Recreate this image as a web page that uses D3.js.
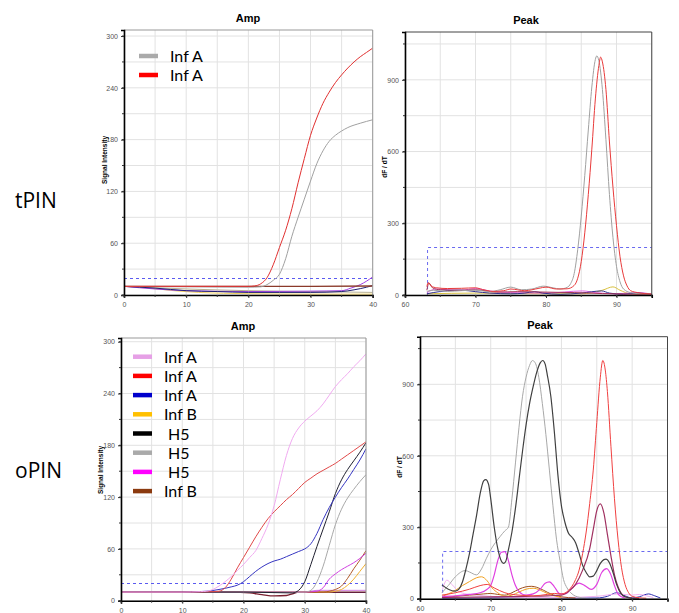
<!DOCTYPE html>
<html><head><meta charset="utf-8">
<script src="https://cdn.jsdelivr.net/npm/d3@7"></script>
<style>
html,body{margin:0;padding:0;background:#fff;}
svg{display:block;}
</style></head>
<body>
<svg id="c" width="679" height="613"></svg>
<script>
// ---------------- DATA ----------------
const rowLabels = ["tPIN", "oPIN"];
const ampXTicks = [0, 10, 20, 30, 40];
const ampYTicks = [0, 60, 120, 180, 240, 300];
const peakXTicks = [60, 70, 80, 90];
const peakYTicks = [0, 300, 600, 900];
const ampThreshold = 20;
const peakThresholdX = 63.2;
const peakThresholdY = 200;

const legendTop = [
  {name: "Inf A", color: "#aaaaaa"},
  {name: "Inf A", color: "#ff0000"}
];
const legendBottom = [
  {name: "Inf A", color: "#e6a0e6"},
  {name: "Inf A", color: "#ff0000"},
  {name: "Inf A", color: "#0000cc"},
  {name: "Inf B", color: "#ffc000"},
  {name: " H5", color: "#000000"},
  {name: " H5", color: "#aaaaaa"},
  {name: " H5", color: "#ff00ff"},
  {name: "Inf B", color: "#8b3a0f"}
];

// tPIN amplification curves [cycle, signal]
const tAmpRed = [[0,10],[5,10],[10,10],[15,10],[20,10],[21,10.5],[22,13],[23,20],[24,35],[25,55],[26,75],[27,100],[28,130],[29,158],[30,185],[31,205],[32,222],[33,235],[34,246],[35,255],[36,263],[37,270],[38,276],[39,281],[40,286]];
const tAmpGray = [[0,10],[10,9.5],[20,9],[22,9.5],[23,12],[24,17],[25,24],[26,42],[27,68],[28,90],[29,111],[30,132],[31,152],[32,167],[33,178],[34,185],[35,190],[36,194],[38,199],[40,203]];
const tAmpBrown = [[0,10],[10,10],[20,10],[30,10],[40,10.5]];
const tAmpNavy = [[0,10],[5,8],[10,5],[15,4],[20,3],[25,3],[30,3],[35,4],[37,6],[39,9],[40,11]];
const tAmpViolet = [[0,10],[5,7],[10,5],[20,4],[30,4.5],[35,5],[36.5,8],[38,12],[39,16],[40,21]];
const tAmpYellow = [[0,10],[4,8],[8,5],[12,3],[16,2],[20,1.5],[30,1],[40,1]];
const tAmpTan = [[0,10],[10,7],[20,5],[30,4],[40,3]];

// tPIN melt peak curves [temperature, dF/dT]
const tPeakRed = [[63.1,35],[63.3,52],[63.7,38],[64.5,30],[66,27],[68,28],[70,30],[71,23],[72.5,15],[74,18],[75,25],[77,18],[79,28],[80,33],[81.5,25],[83,26],[84,40],[84.5,70],[85,140],[85.5,260],[86,420],[86.5,610],[87,820],[87.5,960],[87.75,995],[88,975],[88.5,860],[89,640],[89.5,450],[90,290],[90.5,160],[91,80],[91.5,38],[92,18],[93,10],[94,6],[95,4]];
const tPeakGray = [[63.1,15],[64,20],[66,15],[68,18],[70,20],[72,14],[73.5,22],[75,33],[76.5,22],[78,25],[79.6,37],[81,30],[82,25],[83,32],[83.5,48],[84,90],[84.5,190],[85,330],[85.5,500],[86,690],[86.5,870],[87,985],[87.2,1000],[87.5,980],[88,860],[88.5,650],[89,420],[89.5,240],[90,120],[90.5,55],[91,25],[92,10],[93,6],[95,4]];
const tPeakNavy = [[63.1,5],[64,10],[66,18],[68,20],[70,14],[72,8],[75,5],[77,8],[78.4,14],[79.5,8],[82,3],[85,8],[87.9,17],[89,8],[91,3],[93,8],[95,3]];
const tPeakMagenta = [[63.1,10],[64.5,25],[66,22],[68,20],[70,27],[72,17],[75,10],[80,8],[85.2,17],[87,10],[90,5],[93,10],[95,4]];
const tPeakYellow = [[63.1,5],[70,8],[80,5],[85,5],[88,20],[89.5,34],[90.5,20],[92,5],[95,3]];
const tPeakMaroon = [[63.1,20],[63.4,50],[63.9,30],[65,22],[68,20],[70,22],[73,12],[76,14],[80,12],[84,10],[88,6],[95,2]];

// oPIN amplification curves
const oAmpPink = [[0,10],[10,10],[13,10.5],[14,11],[15,13],[16,17],[17,22],[18,28],[19,35],[20,42],[21,50],[22,58],[23,72],[24,88],[25,110],[26,140],[27,168],[28,188],[29,200],[30,208],[31,214],[32,220],[33,228],[34,238],[35,248],[36,256],[37,263],[38,271],[39,278],[40,286]];
const oAmpRed = [[0,10],[10,10],[15,10.5],[16,11],[17,15],[18,25],[19,38],[20,50],[21,62],[22,74],[23,85],[24,95],[25,103],[26,110],[27,117],[28,123],[29,130],[30,137],[31,142],[32,147],[33,151],[34,155],[35,159],[36,164],[37,169],[38,174],[39,179],[40,184]];
const oAmpBlue = [[0,10],[10,10],[14,11],[16,13],[18,16],[19,18],[20,22],[21,28],[22,34],[23,39],[24,43],[25,46],[26,48],[27,51],[28,54],[29,57],[30,60],[31,66],[32,78],[33,94],[34,108],[35,120],[36,131],[37,141],[38,152],[39,163],[40,176]];
const oAmpBlack = [[0,10],[20,10],[28,9],[29,12],[30,22],[31,42],[32,63],[33,83],[34,103],[35,124],[36,140],[37,152],[38,162],[39,172],[40,183]];
const oAmpGray = [[0,10],[30,10],[31,12],[32,22],[33,40],[34,64],[35,88],[36,106],[37,119],[38,129],[39,138],[40,146]];
const oAmpMagenta = [[0,10],[30,10],[32,11],[33,15],[34,25],[35,31],[36,36],[37,40],[38,44],[39,49],[40,55]];
const oAmpOrange = [[0,10],[34,10],[35,11],[36,13],[37,18],[38,25],[39,34],[40,43]];
const oAmpBrown = [[0,10],[33,10],[34,11],[35,13],[36,17],[37,26],[38,37],[39,47],[40,58]];
const oAmpMaroon = [[0,10],[18,10],[21,9],[23,7],[25,5.5],[27,6],[28,8],[29,10],[40,10]];
const oAmpLilac = [[0,10],[30,10],[32,12],[40,12]];
const oAmpNavy = [[0,9.5],[40,9.5]];

// oPIN melt peak curves
const oPeakBlack = [[63.1,58],[64,40],[65,32],[65.5,40],[66,70],[66.5,125],[67,190],[67.5,270],[68,350],[68.5,440],[69,495],[69.3,500],[69.7,480],[70,420],[70.5,300],[71,210],[71.5,158],[71.8,148],[72.1,155],[72.5,205],[73,280],[73.5,380],[74,500],[74.5,620],[75,730],[75.5,820],[76,890],[76.5,950],[77,990],[77.35,1000],[77.7,985],[78,940],[78.5,850],[79,700],[79.5,520],[80,390],[80.5,320],[81,275],[81.5,258],[82,235],[82.5,190],[83,140],[83.5,110],[84,92],[84.5,95],[85,118],[85.5,148],[86,164],[86.3,166],[86.8,150],[87.3,110],[87.8,60],[88.4,22],[89,8],[90,2],[91,0]];
const oPeakGray = [[63.1,25],[64,55],[65,92],[66.4,118],[67,112],[68,100],[68.7,125],[69.4,170],[70,205],[71.3,260],[72,285],[72.5,300],[73,420],[73.5,570],[74,720],[74.5,850],[75,930],[75.5,980],[75.9,1000],[76.3,990],[76.8,930],[77.3,820],[77.8,690],[78.3,540],[78.8,390],[79.3,250],[79.8,160],[80.3,80],[80.8,45],[81.5,20],[82.5,6],[83.5,2]];
const oPeakRed = [[63.1,15],[65,25],[67,40],[68.5,55],[69.5,60],[70.5,45],[72,25],[74,15],[76,12],[78,18],[79,22],[80,20],[81,35],[82,80],[82.5,120],[83,190],[83.5,280],[84,400],[84.5,540],[85,740],[85.5,930],[85.85,1000],[86.2,960],[86.5,870],[87,640],[87.5,420],[88,250],[88.5,130],[89,60],[89.5,25],[90,10],[91,4],[92,2]];
const oPeakMauve = [[63.1,5],[70,8],[75,10],[78,12],[80,15],[81,30],[82,60],[83,120],[84,210],[84.5,290],[85,370],[85.5,398],[86,360],[86.5,270],[87,180],[87.5,100],[88,50],[88.5,20],[89,8],[90,3]];
const oPeakMagenta = [[63.2,10],[65,12],[67,18],[68.5,25],[69.5,40],[70,55],[70.5,100],[71,160],[71.5,195],[72,198],[72.5,160],[73,100],[73.5,55],[74,30],[75,15],[76,20],[77,40],[77.7,65],[78.3,71],[79,50],[79.8,20],[80.5,20],[81.5,45],[82.5,65],[83.3,55],[84.2,39],[85,60],[85.7,110],[86.4,126],[87,100],[87.5,55],[88,20],[88.5,8],[89,3]];
const oPeakOrange = [[63.2,10],[64,20],[65,35],[66,55],[67,72],[68,88],[68.7,92],[69.5,75],[70.2,45],[71,25],[72,10],[73,15],[74,28],[75,40],[76,44],[77,36],[78,22],[79,12],[80,5]];
const oPeakBrown = [[63.2,5],[65,10],[67,15],[69,20],[70,22],[71,18],[72,15],[73,25],[74,40],[75,50],[75.8,52],[76.5,48],[77.5,35],[78.5,20],[80,8],[82,3]];
const oPeakPink = [[63.2,40],[63.8,78],[64.5,60],[65.5,30],[66.5,20],[68,15],[70,10],[75,5],[80,5],[85,10],[88,20],[90,15],[91,18],[92,12],[93,5]];
const oPeakBlue = [[63.2,2],[70,3],[75,5],[80,3],[85,3],[86.5,10],[87.8,25],[89,12],[90,3],[91,8],[92.3,20],[93.2,12],[94,3]];

// ---------------- DRAW ----------------
const svg = d3.select("#c");
svg.append("rect").attr("width", 679).attr("height", 613).attr("fill", "#fff");
let clipId = 0;

function drawPanel(cfg) {
  const x = d3.scaleLinear().domain(cfg.xDomain).range([cfg.left, cfg.right]);
  const y = d3.scaleLinear().domain(cfg.yDomain).range([cfg.bottom, cfg.top]);
  const g = svg.append("g");

  const xg = d3.range(cfg.xDomain[0], cfg.xDomain[1] + 0.001, cfg.xGridStep);
  const yg = d3.range(cfg.yDomain[0], cfg.yDomain[1] + 0.001, cfg.yGridStep);
  g.selectAll(".vg").data(xg).join("line")
    .attr("x1", d => x(d)).attr("x2", d => x(d))
    .attr("y1", cfg.top).attr("y2", cfg.bottom)
    .attr("stroke", "#e2e2e2").attr("stroke-width", 1);
  g.selectAll(".hg").data(yg).join("line")
    .attr("x1", cfg.left).attr("x2", cfg.right)
    .attr("y1", d => y(d)).attr("y2", d => y(d))
    .attr("stroke", "#e2e2e2").attr("stroke-width", 1);

  const id = "clip" + (clipId++);
  svg.append("clipPath").attr("id", id).append("rect")
    .attr("x", cfg.left).attr("y", cfg.top)
    .attr("width", cfg.right - cfg.left).attr("height", cfg.bottom - cfg.top);
  const plot = g.append("g").attr("clip-path", `url(#${id})`);

  if (cfg.type === "amp") {
    plot.append("line")
      .attr("x1", x(cfg.xDomain[0])).attr("x2", x(cfg.xDomain[1]))
      .attr("y1", Math.round(y(ampThreshold)) + 0.5).attr("y2", Math.round(y(ampThreshold)) + 0.5)
      .attr("stroke", "#5a5af0").attr("stroke-width", 1).attr("stroke-dasharray", "3,3");
  } else {
    plot.append("path")
      .attr("d", d3.line()([[x(peakThresholdX), y(0)], [x(peakThresholdX), Math.round(y(peakThresholdY)) + 0.5], [x(cfg.xDomain[1]), Math.round(y(peakThresholdY)) + 0.5]]))
      .attr("fill", "none")
      .attr("stroke", "#6a6af0").attr("stroke-width", 1).attr("stroke-dasharray", "3,3");
  }

  const line = d3.line().x(d => x(d[0])).y(d => y(d[1])).curve(d3.curveMonotoneX);
  cfg.series.forEach(s => {
    plot.append("path").attr("d", line(s.data))
      .attr("fill", "none").attr("stroke", s.color)
      .attr("stroke-width", s.w || 1).attr("stroke-opacity", s.o || 1);
  });

  g.append("line").attr("x1", cfg.left).attr("x2", cfg.right).attr("y1", cfg.top).attr("y2", cfg.top)
    .attr("stroke", cfg.type === "amp" ? "#999" : "#444").attr("stroke-width", 1);
  g.append("line").attr("x1", cfg.right).attr("x2", cfg.right).attr("y1", cfg.top).attr("y2", cfg.bottom)
    .attr("stroke", cfg.type === "amp" ? "#999" : "#444").attr("stroke-width", 1);

  const xAxis = d3.axisBottom(x).tickValues(cfg.xTicks).tickSize(3).tickFormat(d3.format("d"));
  const yAxis = d3.axisLeft(y).tickValues(cfg.yTicks).tickSize(3).tickFormat(d3.format("d"));
  const gx = g.append("g").attr("transform", `translate(0,${cfg.bottom})`).call(xAxis);
  const gy = g.append("g").attr("transform", `translate(${cfg.left},0)`).call(yAxis);
  [gx, gy].forEach(a => {
    a.select(".domain").attr("stroke", "#000").attr("stroke-width", 1.6);
    a.selectAll(".tick line").attr("stroke", "#333");
    a.selectAll(".tick text").attr("fill", "#555").style("font-family", "Liberation Sans, Arial, sans-serif").style("font-size", "7px");
  });
  gx.selectAll(".tick text").attr("dy", "0.9em");
  g.selectAll(".myt").data(yg).join("line")
    .attr("x1", cfg.left - 2).attr("x2", cfg.left)
    .attr("y1", d => y(d)).attr("y2", d => y(d)).attr("stroke", "#333");
  g.selectAll(".mxt").data(xg).join("line")
    .attr("x1", d => x(d)).attr("x2", d => x(d))
    .attr("y1", cfg.bottom).attr("y2", cfg.bottom + 2).attr("stroke", "#333");

  g.append("text").attr("x", cfg.titleX).attr("y", cfg.titleY)
    .attr("text-anchor", "middle")
    .style("font-family", "Liberation Sans, Arial, sans-serif").style("font-weight", "bold").style("font-size", "11px")
    .text(cfg.title);
  g.append("text").attr("transform", `translate(${cfg.ylabX},${cfg.ylabY}) rotate(-90)`)
    .attr("text-anchor", "middle")
    .style("font-family", "Liberation Sans, Arial, sans-serif").style("font-weight", "bold").style("font-size", "6.5px")
    .text(cfg.ylabel);

  if (cfg.legend) {
    cfg.legend.forEach((l, i) => {
      const ly = cfg.legY + i * cfg.legStep;
      g.append("line").attr("x1", cfg.legX).attr("x2", cfg.legX + 19)
        .attr("y1", ly).attr("y2", ly).attr("stroke", l.color).attr("stroke-width", 4.5);
      g.append("text").attr("x", cfg.legX + 31).attr("y", ly + 6)
        .attr("xml:space", "preserve").style("white-space", "pre")
        .style("font-family", "Lato, 'Open Sans', sans-serif").style("font-size", "16px").attr("fill", "#000")
        .text(l.name);
    });
  }
}

drawPanel({
  type: "amp", left: 124, right: 372.7, top: 30, bottom: 295,
  xDomain: [0, 40], yDomain: [0, 307], xTicks: ampXTicks, yTicks: ampYTicks,
  xGridStep: 5, yGridStep: 30,
  title: "Amp", titleX: 248, titleY: 22,
  ylabel: "Signal Intensity", ylabX: 107, ylabY: 160,
  legend: legendTop, legX: 139, legY: 56, legStep: 19,
  series: [
    {data: tAmpTan, color: "#b8b090"},
    {data: tAmpYellow, color: "#f0d060"},
    {data: tAmpViolet, color: "#a040e0"},
    {data: tAmpNavy, color: "#202070"},
    {data: tAmpBrown, color: "#8b3a2a", w: 1.4},
    {data: tAmpGray, color: "#a0a0a0"},
    {data: tAmpRed, color: "#e03030"}
  ]
});

drawPanel({
  type: "peak", left: 405, right: 651.75, top: 32, bottom: 295,
  xDomain: [60, 95], yDomain: [0, 1100], xTicks: peakXTicks, yTicks: peakYTicks,
  xGridStep: 5, yGridStep: 150,
  title: "Peak", titleX: 526, titleY: 24,
  ylabel: "dF / dT", ylabX: 387, ylabY: 167,
  series: [
    {data: tPeakYellow, color: "#d8c040"},
    {data: tPeakMagenta, color: "#e060e0"},
    {data: tPeakNavy, color: "#303090"},
    {data: tPeakMaroon, color: "#a03050"},
    {data: tPeakGray, color: "#a0a0a0"},
    {data: tPeakRed, color: "#e83a3a"}
  ]
});

drawPanel({
  type: "amp", left: 121, right: 366, top: 338, bottom: 600.7,
  xDomain: [0, 40], yDomain: [0, 304.3], xTicks: ampXTicks, yTicks: ampYTicks,
  xGridStep: 5, yGridStep: 30,
  title: "Amp", titleX: 243, titleY: 330,
  ylabel: "Signal Intensity", ylabX: 103, ylabY: 470,
  legend: legendBottom, legX: 133, legY: 356.7, legStep: 19.2,
  series: [
    {data: oAmpNavy, color: "#202060"},
    {data: oAmpLilac, color: "#d080e0"},
    {data: oAmpMaroon, color: "#7a2030", w: 1.3},
    {data: oAmpOrange, color: "#f0b030"},
    {data: oAmpBrown, color: "#b05a2a"},
    {data: oAmpMagenta, color: "#d040e0"},
    {data: oAmpGray, color: "#a8a8a8"},
    {data: oAmpBlack, color: "#202030"},
    {data: oAmpBlue, color: "#3535c0"},
    {data: oAmpRed, color: "#e04848"},
    {data: oAmpPink, color: "#f0aaf0"}
  ]
});

drawPanel({
  type: "peak", left: 420, right: 667.5, top: 336.7, bottom: 598.7,
  xDomain: [60, 95], yDomain: [0, 1100], xTicks: peakXTicks, yTicks: peakYTicks,
  xGridStep: 5, yGridStep: 150,
  title: "Peak", titleX: 540, titleY: 329,
  ylabel: "dF / dT", ylabX: 402, ylabY: 467,
  series: [
    {data: oPeakBlue, color: "#3030b0"},
    {data: oPeakPink, color: "#f0b0f0"},
    {data: oPeakBrown, color: "#a05020"},
    {data: oPeakOrange, color: "#f0a020"},
    {data: oPeakMagenta, color: "#e040e0", w: 1.2},
    {data: oPeakMauve, color: "#a03060", w: 1.2},
    {data: oPeakGray, color: "#a8a8a8"},
    {data: oPeakBlack, color: "#404040", w: 1.2},
    {data: oPeakRed, color: "#f04040"}
  ]
});

svg.selectAll(".rowlab").data(rowLabels).join("text")
  .attr("x", 15).attr("y", (d, i) => i === 0 ? 208 : 478)
  .style("font-family", "'Open Sans', sans-serif").style("font-size", "21px").attr("fill", "#000")
  .text(d => d);
</script>
</body></html>
